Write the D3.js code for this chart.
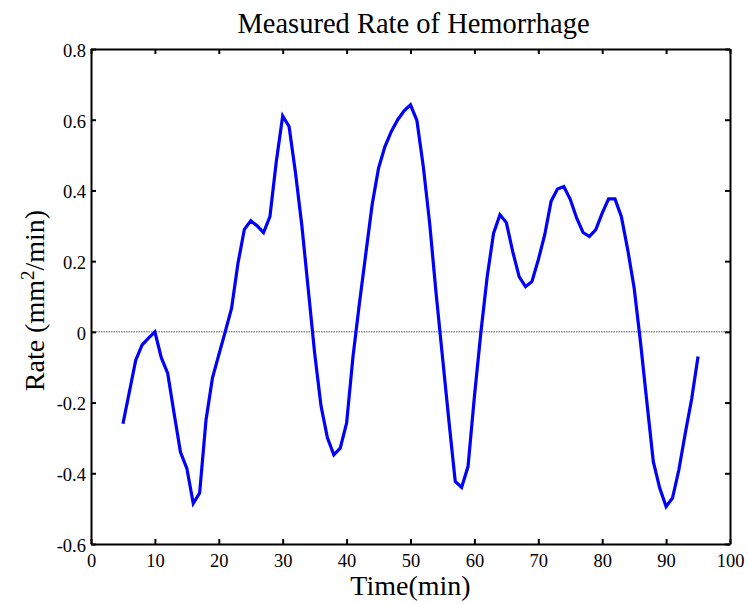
<!DOCTYPE html>
<html>
<head>
<meta charset="utf-8">
<script src="https://cdn.jsdelivr.net/npm/d3@7"></script>
<style>
  html, body { margin: 0; padding: 0; background: #fff; }
  svg { display: block; }
  text { font-family: "Liberation Serif", "Times New Roman", serif; fill: #000; }
</style>
</head>
<body>
<script>
// ---- data ----
const times = [5,6,7,8,9,10,11,12,13,14,15,16,17,18,19,20,21,22,23,24,25,26,27,28,29,30,
  31,32,33,34,35,36,37,38,39,40,41,42,43,44,45,46,47,48,49,50,51,52,53,54,55,56,57,58,59,60,
  61,62,63,64,65,66,67,68,69,70,71,72,73,74,75,76,77,78,79,80,81,82,83,84,85,86,87,88,89,90,
  91,92,93,94,95];
const rates = [-0.26,-0.17,-0.08,-0.037,-0.018,0.0,-0.073,-0.117,-0.23,-0.34,-0.386,-0.485,-0.456,-0.249,-0.131,-0.065,0.0,0.067,0.194,0.29,0.314,0.30,0.281,0.326,0.482,0.611,
  0.581,0.45,0.30,0.12,-0.06,-0.21,-0.30,-0.348,-0.329,-0.258,-0.07,0.08,0.22,0.36,0.463,0.524,0.567,0.60,0.625,0.642,0.598,0.468,0.307,0.11,-0.07,-0.25,-0.423,-0.44,-0.381,-0.183,
  -0.004,0.156,0.279,0.331,0.309,0.227,0.156,0.128,0.142,0.204,0.274,0.369,0.404,0.411,0.375,0.322,0.281,0.27,0.289,0.336,0.376,0.376,0.326,0.232,0.124,-0.03,-0.20,-0.367,-0.442,-0.494,
  -0.47,-0.39,-0.287,-0.19,-0.07];
const xTickValues = [0,10,20,30,40,50,60,70,80,90,100];
const xTickLabels = ["0","10","20","30","40","50","60","70","80","90","100"];
const yTickValues = [-0.6,-0.4,-0.2,0,0.2,0.4,0.6,0.8];
const yTickLabels = ["-0.6","-0.4","-0.2","0","0.2","0.4","0.6","0.8"];
const titleText = "Measured Rate of Hemorrhage";
const xLabelText = "Time(min)";

// ---- layout ----
const W = 748, H = 605;
const L = 91, R = 730, T = 49, B = 544;

const svg = d3.select("body").append("svg").attr("width", W).attr("height", H);

const x = d3.scaleLinear().domain([0, 100]).range([L, R]);
const y = d3.scaleLinear().domain([-0.6, 0.8]).range([B, T]);

// zero reference line
svg.append("line")
  .attr("x1", x(0)).attr("x2", x(100))
  .attr("y1", y(0)).attr("y2", y(0))
  .attr("stroke", "#000").attr("stroke-width", 0.7)
  .attr("stroke-dasharray", "1.5,1");

// data line
const line = d3.line().x((d, i) => x(times[i])).y(d => y(d));
svg.append("path")
  .datum(rates)
  .attr("d", line)
  .attr("fill", "none")
  .attr("stroke", "#0000ff")
  .attr("stroke-width", 3.2)
  .attr("stroke-linejoin", "miter");

// axes
function styleAxis(g) {
  g.selectAll(".domain").attr("stroke", "#000").attr("stroke-width", 2);
  g.selectAll(".tick line").attr("stroke", "#000").attr("stroke-width", 2);
  g.selectAll(".tick text").attr("fill", "#000");
}

const gB = svg.append("g").attr("transform", `translate(0,${B})`)
  .call(d3.axisBottom(x).tickValues(xTickValues)
    .tickFormat((d, i) => xTickLabels[i]).tickSize(-5).tickSizeOuter(0).tickPadding(10));
gB.selectAll("text").style("font-size", "18.5px").style("font-family", "Liberation Serif, serif");
styleAxis(gB);

const gT = svg.append("g").attr("transform", `translate(0,${T})`)
  .call(d3.axisTop(x).tickValues(xTickValues).tickFormat("").tickSize(-5).tickSizeOuter(0));
styleAxis(gT);

const gL = svg.append("g").attr("transform", `translate(${L},0)`)
  .call(d3.axisLeft(y).tickValues(yTickValues)
    .tickFormat((d, i) => yTickLabels[i]).tickSize(-5).tickSizeOuter(0).tickPadding(5));
gL.selectAll("text").style("font-size", "18.5px").style("font-family", "Liberation Serif, serif")
  .attr("dy", "0.4em");
styleAxis(gL);

const gR = svg.append("g").attr("transform", `translate(${R},0)`)
  .call(d3.axisRight(y).tickValues(yTickValues).tickFormat("").tickSize(-5).tickSizeOuter(0));
styleAxis(gR);

// title
svg.append("text")
  .attr("x", (L + R) / 2 + 3).attr("y", 33)
  .attr("text-anchor", "middle")
  .style("font-size", "28.5px")
  .text(titleText);

// x label
svg.append("text")
  .attr("x", (L + R) / 2).attr("y", 595)
  .attr("text-anchor", "middle")
  .style("font-size", "28px")
  .text(xLabelText);

// y label
const yl = svg.append("text")
  .attr("transform", `translate(44,${(T + B) / 2 + 4}) rotate(-90)`)
  .attr("text-anchor", "middle")
  .style("font-size", "28px");
yl.append("tspan").text("Rate (mm");
yl.append("tspan").attr("baseline-shift", "super").style("font-size", "19px").text("2");
yl.append("tspan").text("/min)");
</script>
</body>
</html>
